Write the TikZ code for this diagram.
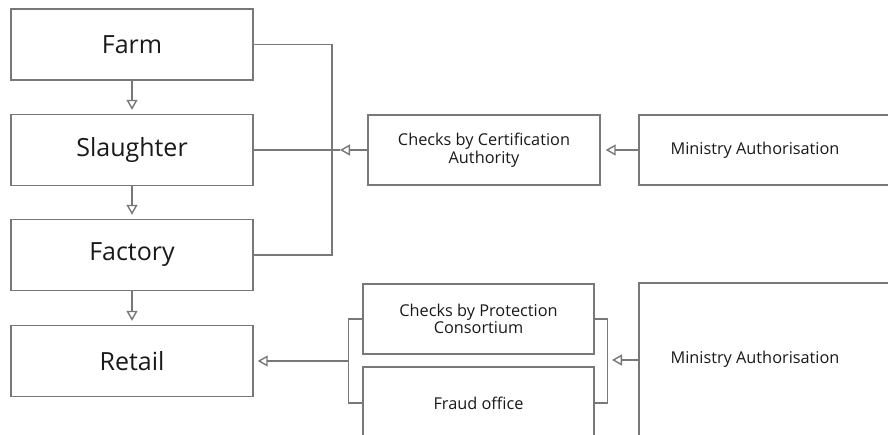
\documentclass[tikz,border=0pt]{standalone}
\usepackage{fontspec}
\setmainfont{Open Sans}
\usetikzlibrary{arrows.meta}
\definecolor{linegray}{RGB}{120,120,120}
\definecolor{textgray}{RGB}{25,25,25}
\begin{document}
\begin{tikzpicture}[x=1pt,y=-1pt,
  box/.style={draw=linegray, line width=1.4pt, inner sep=0pt, text=textgray, align=center},
  bigbox/.style={box, minimum width=242pt, minimum height=71pt, font=\fontsize{25}{29}\selectfont},
  smalltext/.style={text=textgray, align=center, font=\fontsize{16.3}{17.5}\selectfont},
  conn/.style={draw=linegray, line width=1.4pt},
  tip/.style={-{Triangle[open,length=10pt,width=11pt]}}]
\useasboundingbox (0,0) rectangle (888,435);
\clip (0,0) rectangle (888,435);
% left chain
\node[bigbox] (farm) at (132,44.5) {Farm};
\node[bigbox] (slaughter) at (132,150) {Slaughter};
\node[bigbox] (factory) at (132,255) {Factory};
\node[bigbox] (retail) at (132,361) {Retail};
\draw[conn,tip,shorten >=4pt] (farm) -- (slaughter);
\draw[conn,tip,shorten >=4pt] (slaughter) -- (factory);
\draw[conn,tip,shorten >=4pt] (factory) -- (retail);
% certification
\node[box, minimum width=232pt, minimum height=70pt, smalltext] (checks1) at (484,150) {Checks by Certification\\Authority};
\node[box, minimum width=253pt, minimum height=70pt] (ministry1) at (765.5,150) {};
\node[smalltext] (ministry1label) at (755,150) {Ministry Authorisation};
\coordinate (bx1) at (332,44.5);
\coordinate (bx2) at (332,255);
\coordinate (aj) at (340,150);
\draw[conn] (farm.east) -- (bx1) -- (bx2) -- (factory.east);
\draw[conn] (slaughter.east) -- (aj);
\draw[conn,tip] (checks1.west) -- (aj);
\draw[conn,tip,shorten >=5pt] (ministry1.west) -- (checks1.east);
% protection
\node[box, minimum width=231pt, minimum height=70pt, smalltext] (checks2) at (478.5,319) {Checks by Protection\\Consortium};
\node[box, minimum width=231pt, minimum height=72pt, smalltext] (fraud) at (478.5,403) {Fraud office};
\node[box, minimum width=253pt, minimum height=154pt] (ministry2) at (765.5,360) {};
\node[smalltext] (ministry2label) at (755,359) {Ministry Authorisation};
\coordinate (lj) at (349,361);
\coordinate (rj) at (607,360);
\draw[conn] (checks2.west) -- ++(-14,0) |- (fraud.west);
\draw[conn] (checks2.east) -- ++(13,0) |- (fraud.east);
\draw[conn,tip,shorten >=4pt] (lj) -- (retail.east);
\draw[conn,tip,shorten >=5pt] (ministry2.west |- rj) -- (rj);
\end{tikzpicture}
\end{document}
